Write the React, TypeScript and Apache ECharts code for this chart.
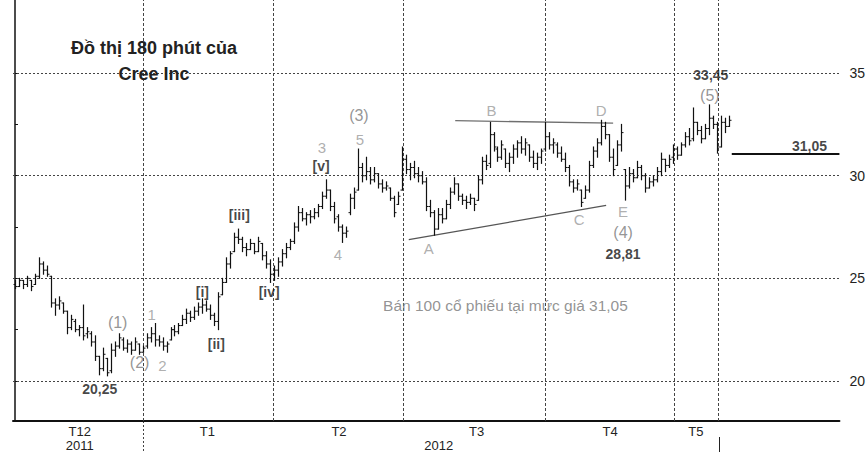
import React, { useEffect, useRef } from 'react';
import * as echarts from 'echarts';

// OHLC bars, 180-minute, as [open, high, low, close], grouped by month
const decBars: number[][] = [
  [24.7, 24.9, 24.5, 24.6], [24.6, 25.0, 24.6, 24.9], [24.9, 24.9, 24.5, 24.7], [24.7, 25.1, 24.6, 25.0],
  [24.9, 24.9, 24.4, 24.6], [24.7, 25.2, 24.7, 25.1], [25.1, 26.0, 25.0, 25.7], [25.7, 25.8, 25.2, 25.4],
  [25.4, 25.6, 25.1, 25.2], [25.1, 25.1, 23.6, 23.8], [23.8, 24.0, 23.2, 23.7], [23.7, 24.1, 23.5, 23.9],
  [23.8, 23.8, 23.3, 23.4], [23.4, 23.4, 22.3, 22.6], [22.6, 23.2, 22.5, 23.0], [22.9, 23.0, 22.4, 22.5],
  [22.5, 22.7, 22.2, 22.6], [22.6, 23.7, 22.0, 22.2], [22.3, 22.6, 22.1, 22.4], [22.3, 22.4, 21.7, 21.9],
  [21.9, 22.2, 21.0, 21.2], [21.2, 21.2, 20.3, 20.6], [20.6, 21.6, 20.5, 21.3], [21.1, 21.1, 20.25, 20.4],
  [20.5, 21.8, 20.4, 21.5], [21.5, 21.9, 21.2, 21.7], [21.7, 22.3, 21.6, 22.1], [22.0, 22.1, 21.5, 21.6],
  [21.6, 22.0, 21.4, 21.8], [21.8, 21.9, 21.3, 21.5], [21.5, 22.1, 21.5, 21.9], [21.8, 21.8, 21.3, 21.4],
  [21.4, 21.7, 21.4, 21.6],
];
const janBars: number[][] = [
  [21.7, 22.3, 21.6, 22.1], [22.1, 22.6, 21.9, 22.3], [22.3, 22.8, 21.7, 22.0], [22.0, 22.2, 21.7, 21.9],
  [21.9, 22.1, 21.5, 21.7], [21.7, 21.9, 21.4, 21.8], [22.0, 22.6, 22.0, 22.5], [22.5, 22.7, 22.2, 22.4],
  [22.4, 22.8, 22.3, 22.7], [22.7, 23.2, 22.7, 23.0], [23.0, 23.5, 22.8, 23.3], [23.3, 23.4, 22.9, 23.1],
  [23.1, 23.6, 23.0, 23.4], [23.4, 23.8, 23.2, 23.6], [23.6, 24.0, 23.3, 23.7], [23.7, 23.9, 23.4, 23.5],
  [23.5, 23.7, 23.0, 23.2], [23.2, 23.3, 22.7, 22.9], [22.9, 24.3, 22.5, 24.1], [24.2, 25.0, 24.2, 24.8],
  [24.8, 26.0, 24.8, 25.7], [25.7, 26.3, 25.5, 26.2], [26.3, 27.2, 26.3, 27.0], [27.0, 27.4, 26.7, 26.9],
  [26.9, 27.0, 26.3, 26.5], [26.5, 26.7, 26.1, 26.4], [26.4, 26.9, 26.4, 26.7], [26.7, 26.7, 26.2, 26.3],
  [26.3, 27.0, 26.3, 26.8], [26.7, 26.7, 25.9, 26.1], [26.1, 26.3, 25.5, 25.7], [25.7, 25.9, 24.8, 25.2],
];
const febBars: number[][] = [
  [25.2, 25.6, 24.9, 25.4], [25.4, 26.0, 25.1, 25.8], [25.8, 26.4, 25.6, 26.2], [26.2, 26.7, 26.0, 26.5],
  [26.5, 26.9, 26.4, 26.8], [26.8, 27.7, 26.7, 27.5], [27.5, 28.5, 27.3, 28.2], [28.2, 28.4, 27.8, 27.9],
  [27.9, 28.2, 27.6, 28.1], [28.1, 28.3, 27.7, 28.0], [28.0, 28.4, 27.9, 28.2], [28.2, 28.6, 28.0, 28.5],
  [28.5, 29.2, 28.4, 29.0], [29.0, 29.8, 28.9, 29.3], [29.3, 29.3, 28.3, 28.5], [28.5, 28.7, 27.7, 27.9],
  [28.0, 28.1, 27.3, 27.5], [27.5, 27.6, 26.75, 27.2], [27.2, 27.5, 27.0, 27.3], [28.2, 29.1, 28.1, 28.9],
  [28.9, 29.4, 28.4, 29.2], [29.3, 31.3, 29.3, 30.4], [30.4, 30.6, 29.7, 30.0], [30.0, 30.9, 29.8, 30.2],
  [30.2, 30.4, 29.6, 29.8], [29.8, 30.4, 29.7, 30.1], [30.1, 30.1, 29.4, 29.6], [29.6, 29.8, 29.2, 29.4],
  [29.4, 29.7, 29.3, 29.5], [29.4, 29.4, 28.8, 28.9], [28.9, 29.0, 28.0, 28.2], [28.6, 29.2, 28.6, 29.0],
];
const marBars: number[][] = [
  [29.3, 31.4, 29.3, 30.8], [30.8, 31.0, 30.1, 30.3], [30.3, 30.6, 29.8, 30.4], [30.4, 30.7, 29.9, 30.1],
  [30.1, 30.4, 29.7, 30.0], [30.0, 30.2, 29.6, 29.7], [29.7, 29.9, 28.3, 28.5], [28.5, 28.8, 28.0, 28.2],
  [28.2, 28.3, 27.1, 27.4], [27.4, 28.4, 27.4, 28.1], [28.1, 28.4, 27.7, 27.9], [27.9, 28.8, 27.9, 28.6],
  [28.6, 29.4, 28.4, 29.2], [29.2, 29.9, 29.1, 29.6], [29.6, 29.6, 28.8, 29.0], [29.0, 29.1, 28.6, 28.8],
  [28.8, 29.0, 28.4, 28.7], [28.7, 29.1, 28.6, 28.9], [28.9, 28.9, 28.3, 28.6], [28.8, 30.0, 28.8, 29.8],
  [29.8, 30.9, 29.6, 30.7], [30.7, 31.0, 30.3, 30.5], [30.6, 32.6, 30.4, 32.0], [32.0, 32.1, 31.2, 31.4],
  [31.3, 31.4, 30.7, 30.9], [30.9, 31.7, 30.8, 31.5], [31.3, 31.3, 30.4, 30.6], [30.6, 31.1, 30.2, 30.9],
  [30.9, 31.5, 30.6, 31.3], [31.3, 31.7, 30.9, 31.6], [31.6, 31.9, 31.1, 31.3], [31.3, 31.8, 31.0, 31.6],
  [31.5, 31.5, 30.7, 30.9], [30.9, 31.2, 30.4, 30.6], [30.6, 31.1, 30.3, 30.9], [30.9, 31.3, 30.6, 31.2],
];
const aprBars: number[][] = [
  [31.3, 32.6, 31.2, 31.9], [31.9, 32.1, 31.3, 31.5], [31.5, 31.8, 31.1, 31.6], [31.5, 31.6, 30.9, 31.1],
  [31.1, 31.4, 30.7, 30.8], [30.8, 31.1, 30.2, 30.4], [30.4, 30.5, 29.5, 29.7], [29.7, 29.8, 29.2, 29.4],
  [29.4, 29.8, 29.3, 29.6], [29.3, 29.3, 28.5, 28.7], [28.9, 29.5, 28.9, 29.3], [29.3, 30.7, 29.2, 30.5],
  [30.5, 31.4, 30.4, 31.2], [31.2, 31.8, 30.9, 31.6], [31.6, 32.7, 31.5, 32.4], [32.4, 32.6, 31.8, 32.0],
  [32.0, 32.0, 30.7, 30.9], [30.9, 31.3, 30.0, 30.3], [30.5, 31.7, 30.5, 31.5], [31.5, 32.5, 31.2, 32.1],
  [30.3, 30.3, 28.81, 29.5], [29.5, 30.4, 29.4, 30.1], [30.1, 30.3, 29.7, 29.9], [29.9, 30.7, 29.9, 30.4],
  [30.4, 30.5, 29.8, 30.0], [30.0, 30.1, 29.2, 29.4], [29.4, 29.9, 29.4, 29.7], [29.7, 30.0, 29.5, 29.8],
  [29.8, 30.4, 29.7, 30.2], [30.2, 31.1, 30.0, 30.8], [30.8, 30.8, 30.2, 30.5], [30.5, 31.0, 30.4, 30.8],
];
const mayBars: number[][] = [
  [30.9, 31.5, 30.6, 31.3], [31.3, 31.4, 30.8, 31.0], [31.0, 31.6, 31.0, 31.5], [31.5, 32.1, 31.4, 31.9],
  [31.9, 32.3, 31.5, 31.7], [31.8, 33.3, 31.7, 32.6], [32.6, 32.6, 32.0, 32.2], [32.2, 32.4, 31.6, 31.8],
  [31.8, 32.5, 31.8, 32.3], [32.3, 33.45, 32.0, 32.8], [32.8, 32.9, 32.3, 32.5], [32.5, 32.6, 31.1, 31.4],
  [31.4, 32.9, 31.4, 32.6], [32.6, 32.8, 32.1, 32.4], [32.4, 32.9, 32.4, 32.7],
];

// Axis labels / ticks (x in bar-index units)
const monthLabels = ['T12\n2011', 'T1', 'T2', '\n2012', 'T3', 'T4', 'T5'];
const monthLabelAt = [16.25, 48.25, 81.25, 106.25, 115.75, 149.25, 170.75];
const monthBoundaries = [32.25, 64.75, 97.25, 133, 165.25, 176.25];
const priceTicks = [20, 25, 30, 35];
const minorPriceTicks = [20, 22.5, 25, 27.5, 30, 32.5, 35];
const sellPrice = 31.05;

// Elliott-wave annotations: [text, bar index, price, kind]
const annotations: [string, number, number, string][] = [
  ['20,25', 21.25, 19.62, 'num'],
  ['(1)', 25.75, 22.84, 'wave'],
  ['(2)', 31.25, 20.9, 'wave'],
  ['1', 34.25, 23.25, 'minor'],
  ['2', 37, 20.75, 'minor'],
  ['[i]', 47, 24.34, 'bracket'],
  ['[ii]', 50.5, 21.82, 'bracket'],
  ['[iii]', 56.25, 28.07, 'bracket'],
  ['[iv]', 63.75, 24.33, 'bracket'],
  ['[v]', 76.75, 30.49, 'bracket'],
  ['3', 77, 31.37, 'minor'],
  ['4', 81, 26.17, 'minor'],
  ['(3)', 86.25, 32.95, 'wave'],
  ['5', 86.5, 31.78, 'minor'],
  ['A', 103.75, 26.46, 'minor'],
  ['B', 119.5, 33.16, 'minor'],
  ['C', 141.5, 27.86, 'minor'],
  ['D', 147, 33.18, 'minor'],
  ['E', 152.5, 28.25, 'minor'],
  ['(4)', 152.5, 27.24, 'wave'],
  ['28,81', 152.5, 26.17, 'num'],
  ['33,45', 174.5, 34.91, 'num'],
  ['(5)', 174.25, 33.93, 'wave'],
  ['31,05', 199.25, 31.43, 'num'],
  ['Bán 100 cổ phiếu tại mức giá 31,05', 123, 23.69, 'note'],
];

// Triangle trend lines: [[i1, p1], [i2, p2]]
const upperTrend = [[110.4, 32.68], [150, 32.56]];
const lowerTrend = [[98.75, 26.89], [148.25, 28.55]];

const FONT = '"Liberation Sans", Arial, Helvetica, sans-serif';

const kindStyle: Record<string, any> = {
  num: { fontSize: 14, fontWeight: 'bold', color: '#151515' },
  bracket: { fontSize: 14, fontWeight: 'bold', color: '#151515' },
  wave: { fontSize: 16, fontWeight: 'normal', color: '#7a7a7a' },
  minor: { fontSize: 15, fontWeight: 'normal', color: '#9a9a9a' },
  note: { fontSize: 15.5, fontWeight: 'normal', color: '#777777' },
};

export default function App() {
  const ref = useRef<HTMLDivElement>(null);
  useEffect(() => {
    document.body.style.margin = '0';
    if (!ref.current) return;
    const chart = echarts.init(ref.current, undefined, { renderer: 'svg' });
    const allBars = [...decBars, ...janBars, ...febBars, ...marBars, ...aprBars, ...mayBars];
    const barData = allBars.map((b, i) => [i, b[0], b[1], b[2], b[3]]);

    const gridLine = { color: '#444', type: [2, 2] as any, width: 1 };

    const option: any = {
      animation: false,
      backgroundColor: '#ffffff',
      textStyle: { fontFamily: FONT },
      title: {
        text: 'Đồ thị 180 phút của\nCree Inc',
        left: 149,
        top: 30,
        textAlign: 'center',
        textStyle: { fontFamily: FONT, fontSize: 18, fontWeight: 'bold', color: '#222', lineHeight: 26 },
      },
      grid: { left: 13, right: 26, top: 0, bottom: 31, containLabel: false },
      xAxis: {
        type: 'value',
        min: -0.5,
        max: 206.75,
        axisLine: { show: true, onZero: false, lineStyle: { color: '#111', width: 2 } },
        axisTick: { show: false },
        splitLine: { show: false },
        axisLabel: {
          customValues: monthLabelAt,
          margin: 3,
          fontSize: 13,
          lineHeight: 14,
          color: '#222',
          fontFamily: FONT,
          formatter: (v: number) => {
            let best = 0;
            monthLabelAt.forEach((m, k) => { if (Math.abs(m - v) < Math.abs(monthLabelAt[best] - v)) best = k; });
            return monthLabels[best];
          },
        },
      },
      yAxis: {
        type: 'value',
        position: 'right',
        min: 18.05,
        max: 38.56,
        axisLine: { show: true, lineStyle: { color: '#111', width: 1.5 } },
        axisTick: { show: true, customValues: minorPriceTicks, length: 3, lineStyle: { color: '#111' } },
        splitLine: { show: false },
        axisLabel: { customValues: priceTicks, margin: 10, fontSize: 14, color: '#222', fontFamily: FONT },
      },
      graphic: [
        { type: 'line', shape: { x1: 143.5, y1: 421, x2: 143.5, y2: 452 }, style: { stroke: '#444', lineWidth: 1, lineDash: [2, 2] } },
        { type: 'line', shape: { x1: 719.5, y1: 437, x2: 719.5, y2: 452 }, style: { stroke: '#222', lineWidth: 1 } },
      ],
      series: [
        {
          type: 'custom',
          name: 'Cree',
          data: barData,
          encode: { x: 0, y: [1, 2, 3, 4] },
          clip: true,
          z: 3,
          renderItem: (params: any, api: any) => {
            const i = api.value(0);
            const o = api.coord([i, api.value(1)]);
            const h = api.coord([i, api.value(2)]);
            const l = api.coord([i, api.value(3)]);
            const c = api.coord([i, api.value(4)]);
            const x = Math.round(h[0]) + 0.5;
            const st = { stroke: '#111', lineWidth: 1.2 };
            return {
              type: 'group',
              children: [
                { type: 'line', shape: { x1: x, y1: h[1] - 0.5, x2: x, y2: l[1] + 0.5 }, style: st },
                { type: 'line', shape: { x1: x - 2, y1: o[1], x2: x, y2: o[1] }, style: { stroke: '#111', lineWidth: 1 } },
                { type: 'line', shape: { x1: x, y1: c[1], x2: x + 2, y2: c[1] }, style: { stroke: '#111', lineWidth: 1 } },
              ],
            };
          },
          markLine: {
            silent: true,
            symbol: ['none', 'none'],
            label: { show: false },
            z: 1,
            data: [
              ...priceTicks.map((p) => ({ yAxis: p, lineStyle: gridLine })),
              ...monthBoundaries.map((m) => ({ xAxis: m, lineStyle: { color: '#444', type: [3, 2], width: 1 } })),
              [
                { coord: upperTrend[0], lineStyle: { color: '#6f6f6f', width: 1.3, type: 'solid' } },
                { coord: upperTrend[1] },
              ],
              [
                { coord: lowerTrend[0], lineStyle: { color: '#555', width: 1.3, type: 'solid' } },
                { coord: lowerTrend[1] },
              ],
              [
                { coord: [179.75, sellPrice], lineStyle: { color: '#111', width: 2, type: 'solid' } },
                { coord: [206.75, sellPrice] },
              ],
            ],
          },
        },
        {
          type: 'scatter',
          name: 'labels',
          silent: true,
          z: 5,
          symbol: 'circle',
          symbolSize: 1,
          itemStyle: { color: 'rgba(0,0,0,0)' },
          data: annotations.map(([text, i, p, kind]) => ({
            value: [i, p],
            label: {
              show: true,
              position: 'inside',
              formatter: text,
              fontFamily: FONT,
              ...kindStyle[kind],
            },
          })),
        },
      ],
    };
    chart.setOption(option);
    return () => chart.dispose();
  }, []);
  return <div ref={ref} style={{ width: 868, height: 452 }} />;
}
